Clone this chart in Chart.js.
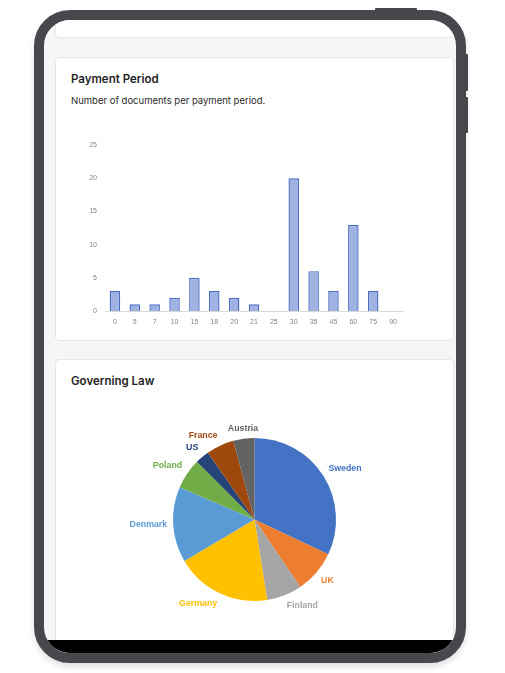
<!DOCTYPE html>
<html>
<head>
<meta charset="utf-8">
<script src="https://cdn.jsdelivr.net/npm/chart.js@4.4.1/dist/chart.umd.min.js"></script>
<style>
  html, body { margin: 0; padding: 0; background: #ffffff; }
  body { width: 505px; height: 673px; position: relative; overflow: hidden; font-family: Inter, "Noto Sans", sans-serif; }
  .device {
    position: absolute; left: 34px; top: 10px; width: 432px; height: 653px;
    box-sizing: border-box; border: 10px solid #47484d; border-radius: 36px;
    background: #f6f6f6; overflow: hidden;
    box-shadow: 0 4px 6px rgba(0,0,0,0.12);
  }
  .btn { position: absolute; background: #47484d; }
  .card { position: absolute; left: 11px; width: 399px; background: #fff; border: 1px solid #e6e6e6; border-radius: 4px; box-sizing: border-box; }
  .title { position: absolute; left: 15px; font-size: 11.5px; font-weight: 600; color: #1e1e1e; white-space: nowrap; }
  .sub { position: absolute; left: 15px; font-size: 9.5px; color: #2a2a2a; white-space: nowrap; }
  .bottombar { position: absolute; left: 0; right: 0; bottom: 0; height: 13px; background: #000; }
  canvas { position: absolute; }
</style>
</head>
<body>
<div class="btn" style="left:375px; top:8px; width:42px; height:3px; border-radius:1px;"></div>
<div class="btn" style="left:465px; top:54px; width:3px; height:37px; border-radius:1px;"></div>
<div class="btn" style="left:465px; top:97px; width:3px; height:36px; border-radius:1px;"></div>
<div class="device">
  <div class="card" style="top:-12px; height:30px;"></div>
  <div class="card" style="top:37px; height:284px;">
    <div class="title" style="top:14px;">Payment Period</div>
    <div class="sub" style="top:37px;">Number of documents per payment period.</div>
  </div>
  <div class="card" style="top:339px; height:400px;">
    <div class="title" style="top:14px;">Governing Law</div>
  </div>
  <div class="bottombar"></div>
</div>
<canvas id="bar" width="340" height="207" style="left:75px; top:133px; width:340px; height:207px;"></canvas>
<canvas id="pie" width="250" height="220" style="left:130px; top:410px; width:250px; height:220px;"></canvas>
<script>
// ---- Payment Period data ----
const periods = ['0','5','7','10','15','18','20','21','25','30','35','45','60','75','90'];
const documentCounts = [3, 1, 1, 2, 5, 3, 2, 1, 0, 20, 6, 3, 13, 3, 0];
const countTicks = [0, 5, 10, 15, 20, 25];

// ---- Governing Law data ----
const countries = ['Sweden', 'UK', 'Finland', 'Germany', 'Denmark', 'Poland', 'US', 'France', 'Austria'];
const countryShares = [32, 8.5, 7, 19, 15, 6, 2.8, 5.5, 4.2];
const countryColors = ['#4472c4', '#ed7d31', '#a5a5a5', '#ffc000', '#5b9bd5', '#70ad47', '#264478', '#9e480e', '#636363'];

const tickFont = { family: '"Liberation Sans", "DejaVu Sans", sans-serif', size: 7 };

new Chart(document.getElementById('bar'), {
  type: 'bar',
  data: {
    labels: periods,
    datasets: [{
      data: documentCounts,
      backgroundColor: '#a0b2e2',
      borderColor: '#4a6fc2',
      borderWidth: 1.4,
      barPercentage: 0.53,
      categoryPercentage: 1
    }]
  },
  options: {
    responsive: false,
    animation: false,
    events: [],
    layout: { padding: { top: 10, bottom: 9, left: 0, right: 12 } },
    plugins: { legend: { display: false }, tooltip: { enabled: false } },
    scales: {
      x: {
        grid: { display: false, drawTicks: false },
        border: { display: true, color: '#d9d9d9', width: 1 },
        ticks: { color: '#858585', font: tickFont, padding: 7, maxRotation: 0, autoSkip: false },
        afterFit: s => { s.height = 20; }
      },
      y: {
        min: countTicks[0],
        max: countTicks[countTicks.length - 1],
        grid: { display: false, drawTicks: false },
        border: { display: false },
        afterBuildTicks: s => { s.ticks = countTicks.map(v => ({ value: v })); },
        ticks: { color: '#858585', font: tickFont, padding: 8 },
        afterFit: s => { s.width = 30; }
      }
    }
  }
});

const outsideLabels = {
  id: 'outsideLabels',
  afterDatasetsDraw(chart) {
    const ctx = chart.ctx;
    const meta = chart.getDatasetMeta(0);
    ctx.save();
    ctx.font = 'bold 8.8px "Liberation Sans", "DejaVu Sans", sans-serif';
    meta.data.forEach((arc, i) => {
      const mid = (arc.startAngle + arc.endAngle) / 2;
      const r = arc.outerRadius + 6;
      const dx = Math.cos(mid), dy = Math.sin(mid);
      const x = arc.x + r * dx, y = arc.y + r * dy;
      ctx.textAlign = dx > 0.15 ? 'left' : (dx < -0.15 ? 'right' : 'center');
      ctx.textBaseline = dy < -0.5 ? 'bottom' : (dy > 0.5 ? 'top' : 'middle');
      ctx.fillStyle = countryColors[i];
      ctx.fillText(chart.data.labels[i], x, y);
    });
    ctx.restore();
  }
};

new Chart(document.getElementById('pie'), {
  type: 'pie',
  data: {
    labels: countries,
    datasets: [{ data: countryShares, backgroundColor: countryColors, borderWidth: 0 }]
  },
  options: {
    responsive: false,
    animation: false,
    events: [],
    layout: { padding: { left: 43, right: 44, top: 28, bottom: 29 } },
    plugins: { legend: { display: false }, tooltip: { enabled: false } }
  },
  plugins: [outsideLabels]
});
</script>
</body>
</html>
